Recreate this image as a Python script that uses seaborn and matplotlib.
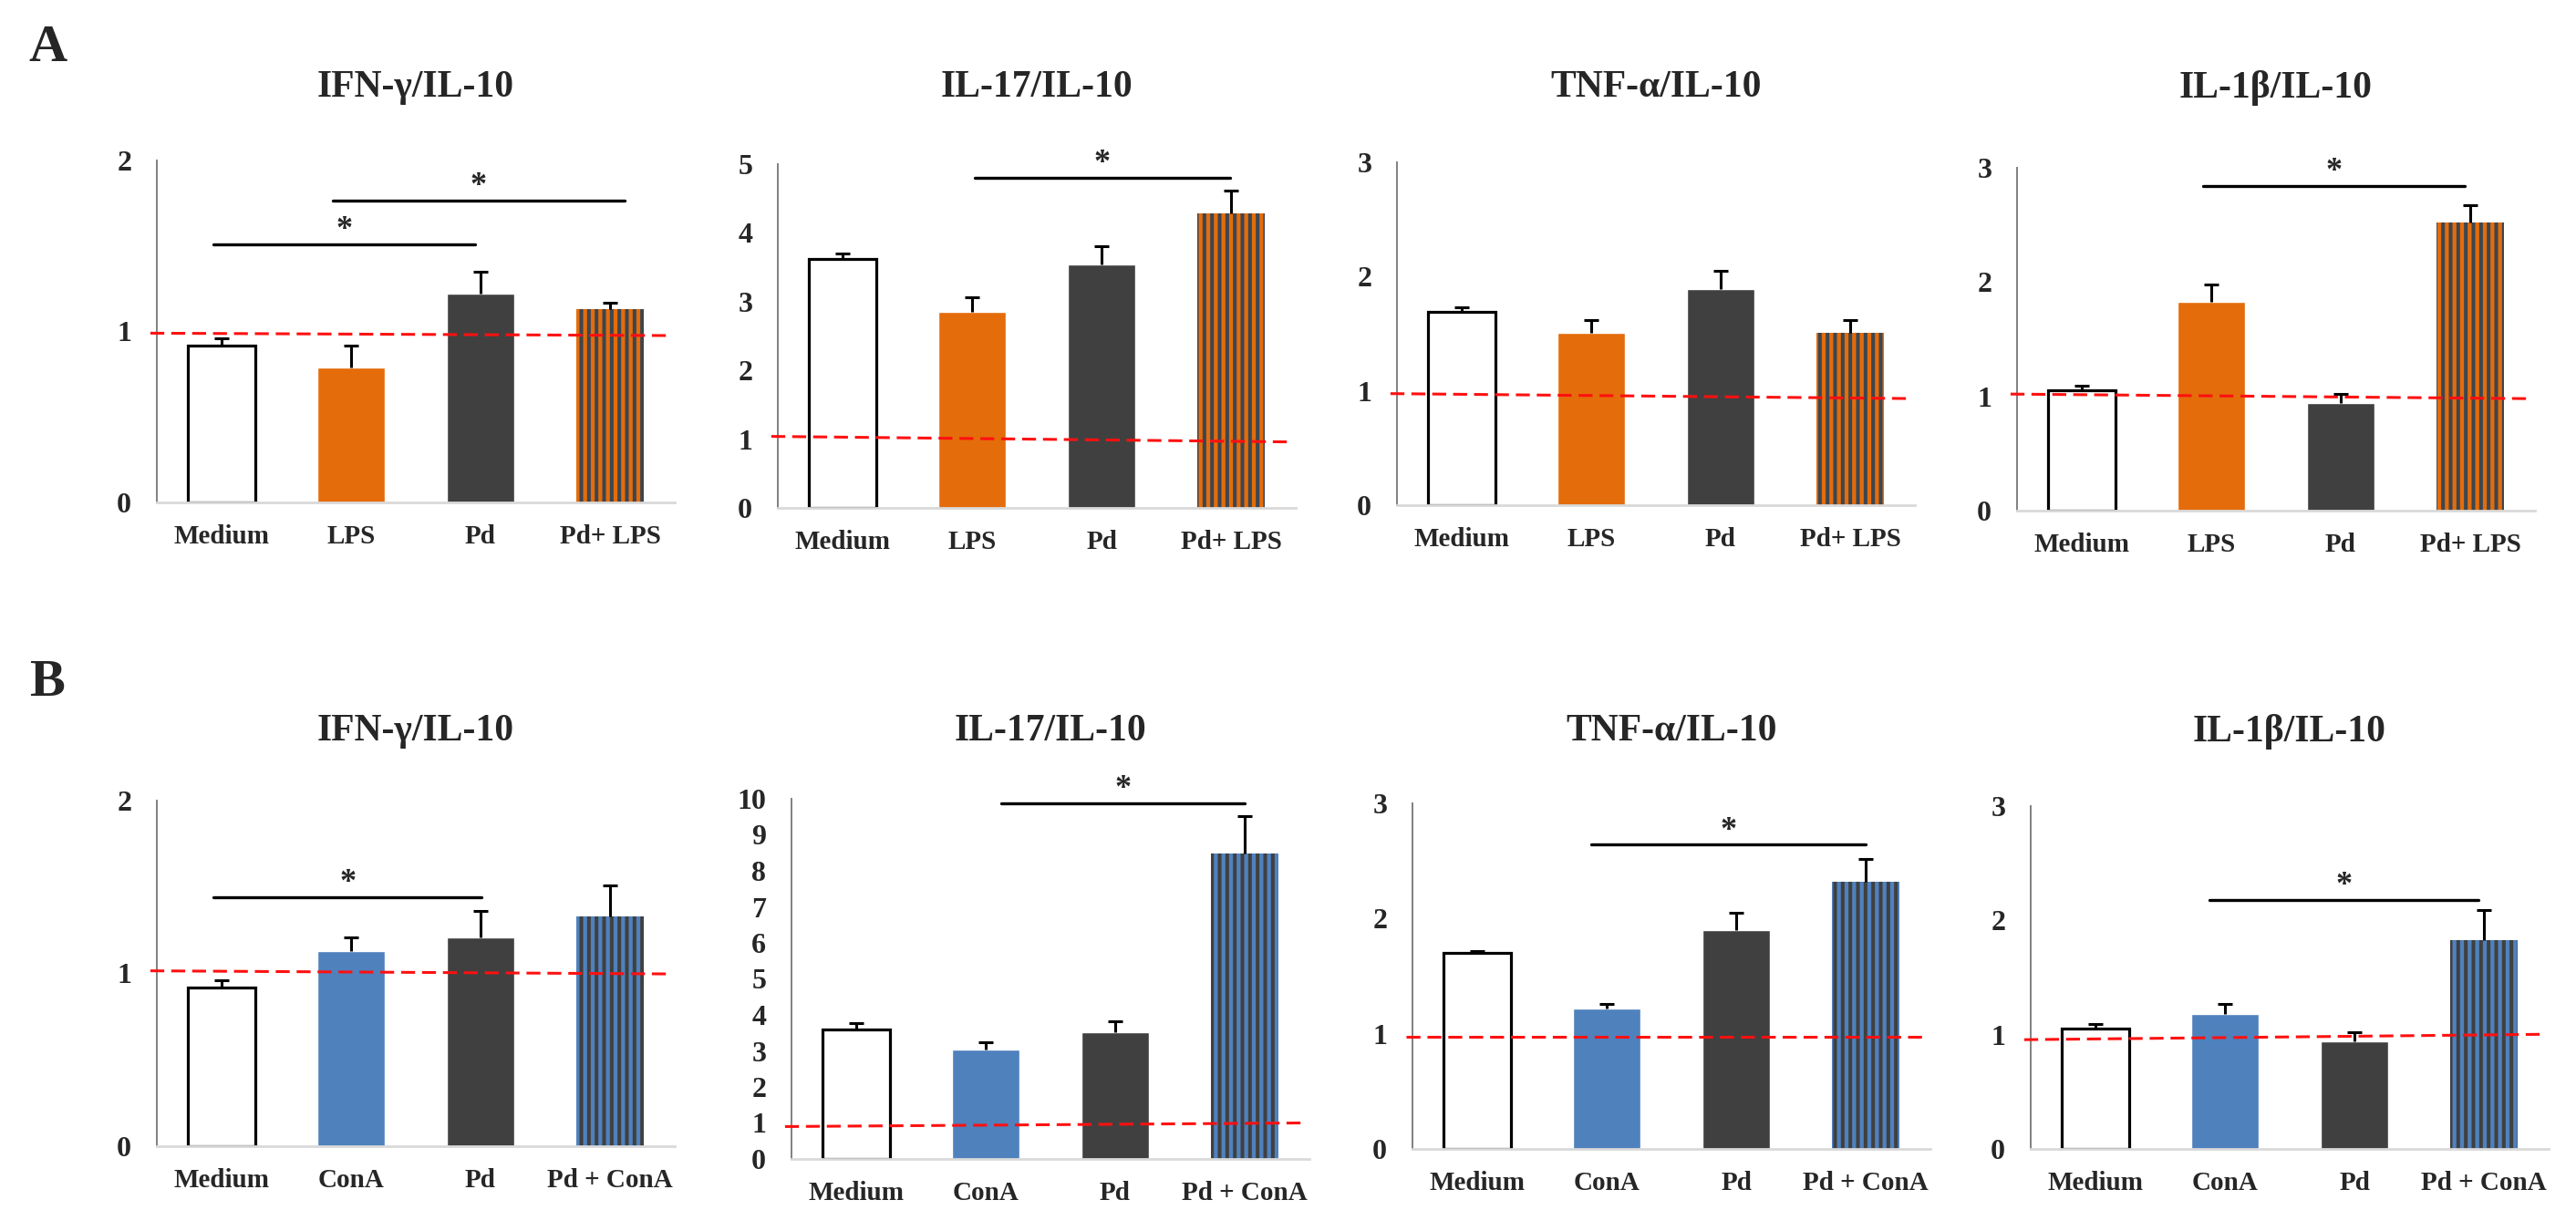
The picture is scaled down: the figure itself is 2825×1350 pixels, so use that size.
import numpy as np
import pandas as pd
import matplotlib
matplotlib.use('Agg')
import matplotlib.pyplot as plt
import seaborn as sns

sns.set_style('white')
plt.rcParams['font.family'] = ['Liberation Serif', 'DejaVu Serif']
plt.rcParams['font.weight'] = 'bold'
plt.rcParams['hatch.linewidth'] = 2.9

### Dados

grupos_lps = ['Medium', 'LPS', 'Pd', 'Pd+ LPS']
grupos_cona = ['Medium', 'ConA', 'Pd', 'Pd + ConA']
titulos = ['IFN-γ/IL-10', 'IL-17/IL-10', 'TNF-α/IL-10', 'IL-1β/IL-10']

# linha A (LPS)
a_ifn = [0.92, 0.79, 1.22, 1.13]
a_ifn_err = [0.04, 0.13, 0.13, 0.04]
a_il17 = [3.62, 2.85, 3.54, 4.29]
a_il17_err = [0.08, 0.21, 0.26, 0.33]
a_tnf = [1.69, 1.51, 1.89, 1.51]
a_tnf_err = [0.04, 0.11, 0.16, 0.11]
a_il1b = [1.05, 1.83, 0.94, 2.52]
a_il1b_err = [0.04, 0.15, 0.08, 0.15]

# linha B (ConA)
b_ifn = [0.92, 1.13, 1.21, 1.33]
b_ifn_err = [0.04, 0.08, 0.15, 0.18]
b_il17 = [3.60, 3.04, 3.52, 8.49]
b_il17_err = [0.16, 0.20, 0.30, 1.03]
b_tnf = [1.70, 1.22, 1.90, 2.32]
b_tnf_err = [0.015, 0.04, 0.15, 0.20]
b_il1b = [1.05, 1.18, 0.94, 1.83]
b_il1b_err = [0.04, 0.09, 0.08, 0.26]

# limites do eixo y
ymax_a = [2, 5, 3, 3]
ymax_b = [2, 10, 3, 3]

# linha de referência (valor à esquerda, valor à direita)
ref_a = [(0.99, 0.976), (1.04, 0.96), (0.976, 0.933), (1.02, 0.98)]
ref_b = [(1.015, 0.997), (0.90, 1.0), (0.97, 0.97), (0.956, 1.003)]

# barras de significância (início, fim, altura)
sig_a = [[(-0.06, 1.96, 1.51), (0.86, 3.11, 1.765)], [(1.02, 2.99, 4.80)], [], [(0.94, 2.96, 2.84)]]
sig_b = [[(-0.06, 2.01, 1.44)], [(1.12, 3.0, 9.87)], [(0.88, 3.0, 2.64)], [(0.88, 2.96, 2.18)]]

laranja = '#E46C0A'
cinza = '#404040'
azul = '#4F81BD'
listra_lps = '#3B4652'
listra_cona = '#404040'

### Posições dos painéis em pixels (esquerda, topo, base)
W, H = 2825, 1350
pos_a = [(172, 176, 551), (853, 180, 557), (1532, 178, 554), (2212, 184, 560)]
pos_b = [(172, 878, 1257), (868, 876, 1271), (1549, 881, 1260), (2227, 884, 1260)]
largura = 568


def painel(fig, pos, grupos, medias, erros, cor, listra, ymax, ref, sigs, titulo, y_titulo):

    esq, topo, base = pos
    ax = fig.add_axes([esq / W, 1 - base / H, largura / W, (base - topo) / H])

    df = pd.DataFrame({'grupo': grupos, 'razao': medias})
    paleta = ['white', cor, cinza, cor]
    sns.barplot(data=df, x='grupo', y='razao', hue='grupo', palette=paleta,
                width=0.52, saturation=1, legend=False, ax=ax)

    barras = ax.patches
    barras[0].set_edgecolor('black')
    barras[0].set_linewidth(2.3)
    barras[3].set_hatch('||')
    barras[3].set_edgecolor(listra)
    barras[3].set_linewidth(0)

    eb = ax.errorbar(range(4), medias, yerr=[np.zeros(4), erros], fmt='none',
                     ecolor='black', elinewidth=2.2, capsize=6, capthick=2.2, zorder=5)
    eb[1][0].set_visible(False)

    ax.plot([-0.55, 3.45], list(ref), color='#FF1010', ls=(0, (5, 2.5)), lw=2.2,
            zorder=6, clip_on=False)

    for x0, x1, y in sigs:
        ax.plot([x0, x1], [y, y], color='black', lw=2.4, zorder=6, clip_on=False)
        ax.annotate('*', xy=((x0 + x1) / 2, y), xytext=(0, 11), textcoords='offset points',
                    ha='center', va='center', fontsize=26, fontweight='bold')

    ax.set_xlim(-0.5, 3.5)
    ax.set_ylim(0, ymax)
    ax.set_yticks(range(0, ymax + 1))
    ax.set_xlabel('')
    ax.set_ylabel('')
    ax.tick_params(axis='both', length=0)
    ax.tick_params(axis='y', labelsize=23, pad=20)
    ax.tick_params(axis='x', labelsize=21, pad=17)
    for t in ax.get_xticklabels() + ax.get_yticklabels():
        t.set_fontweight('bold')

    sns.despine(ax=ax)
    ax.spines['left'].set_color('#808080')
    ax.spines['left'].set_linewidth(1.4)
    ax.spines['bottom'].set_color('#D9D9D9')
    ax.spines['bottom'].set_linewidth(2)

    fig.text((esq + largura / 2) / W, 1 - y_titulo / H, titulo, ha='center', va='center',
             fontsize=30, fontweight='bold')
    return ax


fig = plt.figure(figsize=(W / 100, H / 100), dpi=100)

dados_a = [(a_ifn, a_ifn_err), (a_il17, a_il17_err), (a_tnf, a_tnf_err), (a_il1b, a_il1b_err)]
dados_b = [(b_ifn, b_ifn_err), (b_il17, b_il17_err), (b_tnf, b_tnf_err), (b_il1b, b_il1b_err)]

for i in range(4):
    painel(fig, pos_a[i], grupos_lps, dados_a[i][0], dados_a[i][1], laranja, listra_lps,
           ymax_a[i], ref_a[i], sig_a[i], titulos[i], 96)
    painel(fig, pos_b[i], grupos_cona, dados_b[i][0], dados_b[i][1], azul, listra_cona,
           ymax_b[i], ref_b[i], sig_b[i], titulos[i], 802)

fig.text(52 / W, 1 - 53 / H, 'A', ha='center', va='center', fontsize=42, fontweight='bold')
fig.text(52 / W, 1 - 749 / H, 'B', ha='center', va='center', fontsize=42, fontweight='bold')

fig.savefig('out.png', dpi=100, facecolor='white')
